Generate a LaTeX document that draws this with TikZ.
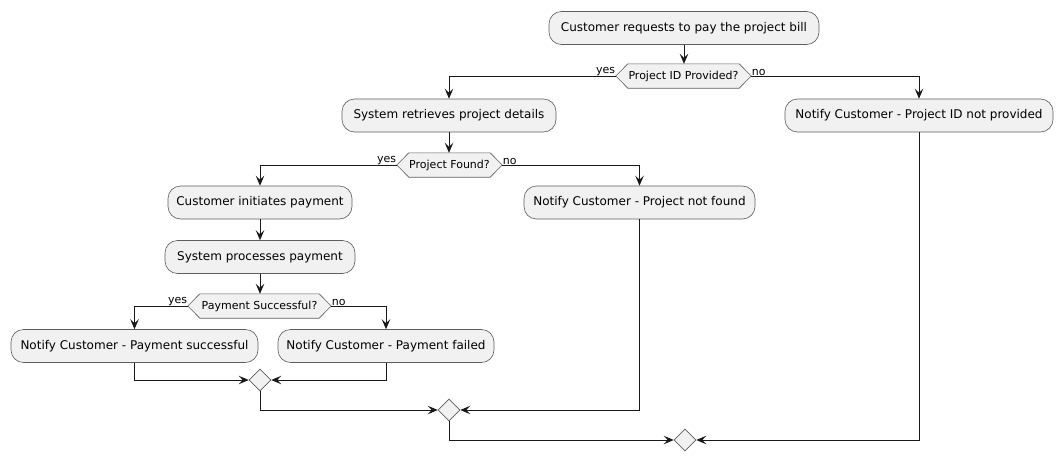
\documentclass[tikz,border=0pt]{standalone}
\usepackage{fontspec}
\setmainfont{DejaVu Sans}
\usetikzlibrary{arrows.meta,shapes.geometric,backgrounds,calc}
\definecolor{boxfill}{HTML}{F1F1F1}
\definecolor{linecol}{HTML}{181818}
\definecolor{bordercol}{HTML}{5E5E5E}
\begin{document}
\begin{tikzpicture}[x=1pt,y=-1pt,
 act/.style={draw=bordercol, line width=0.6pt, fill=boxfill, rounded corners=12.5pt, minimum height=33pt, inner xsep=0pt, font=\fontsize{12}{14}\selectfont, text=black},
 hexbox/.style={minimum height=24pt, inner sep=0pt, font=\fontsize{11}{13}\selectfont},
 hexshape/.style={draw=bordercol, line width=0.6pt, fill=boxfill},
 merge/.style={diamond, draw=bordercol, line width=0.6pt, fill=boxfill, minimum width=22pt, minimum height=22pt, inner sep=0pt},
 flow/.style={draw=linecol, line width=1pt, -{Stealth[length=10pt,width=8.5pt,inset=4pt]}},
 lbl/.style={font=\fontsize{11}{13}\selectfont, inner sep=0.5pt}]
\useasboundingbox (0,0) rectangle (1063,463);
\node[act, minimum width=270pt] (a1) at (684,28) {Customer requests to pay the project bill};
\node[hexbox, minimum width=111pt] (d1) at (683.5,76) {Project ID Provided?};
\node[act, minimum width=214pt] (a2) at (449,115.5) {System retrieves project details};
\node[act, minimum width=268pt] (n1) at (919,115.5) {Notify Customer - Project ID not provided};
\node[hexbox, minimum width=81pt] (d2) at (449.5,165) {Project Found?};
\node[act, minimum width=184pt] (a3) at (260,202.5) {Customer initiates payment};
\node[act, minimum width=231pt] (n2) at (639.5,202.5) {Notify Customer - Project not found};
\node[act, minimum width=190pt] (a4) at (260,257) {System processes payment};
\node[hexbox, minimum width=119pt] (d3) at (259.5,306) {Payment Successful?};
\node[act, minimum width=247pt] (n3) at (134.5,346) {Notify Customer - Payment successful};
\node[act, minimum width=216pt] (n4) at (386,346) {Notify Customer - Payment failed};
\node[merge] (m1) at (260,380) {};
\node[merge] (m2) at (449,410) {};
\node[merge] (m3) at (685,440) {};
\begin{scope}[on background layer]
\foreach \d in {d1,d2,d3}
  \draw[hexshape] (\d.north west) -- (\d.north east) -- ([xshift=12pt]\d.east) -- (\d.south east) -- (\d.south west) -- ([xshift=-12pt]\d.west) -- cycle;
\end{scope}
\foreach \d in {d1,d2,d3}{
  \coordinate (\d l) at ([xshift=-12pt]\d.west);
  \coordinate (\d r) at ([xshift=12pt]\d.east);
}
\draw[flow] (a1.south) -- (a1.south |- d1.north);
\draw[flow] (d1l) -| (a2.north);
\draw[flow] (d1r) -| (n1.north);
\draw[flow] (a2.south) -- (a2.south |- d2.north);
\draw[flow] (d2l) -| (a3.north);
\draw[flow] (d2r) -| (n2.north);
\draw[flow] (a3.south) -- (a4.north);
\draw[flow] (a4.south) -- (a4.south |- d3.north);
\draw[flow] (d3l) -| (n3.north);
\draw[flow] (d3r) -| (n4.north);
\draw[flow] (n3.south) |- (m1.west);
\draw[flow] (n4.south) |- (m1.east);
\draw[flow] (m1.south) |- (m2.west);
\draw[flow] (n2.south) |- (m2.east);
\draw[flow] (m2.south) |- (m3.west);
\draw[flow] (n1.south) |- (m3.east);
\node[lbl, anchor=south east] at (d1l) {yes};
\node[lbl, anchor=south west] at (d1r) {no};
\node[lbl, anchor=south east] at (d2l) {yes};
\node[lbl, anchor=south west] at (d2r) {no};
\node[lbl, anchor=south east] at (d3l) {yes};
\node[lbl, anchor=south west] at (d3r) {no};
\end{tikzpicture}
\end{document}
